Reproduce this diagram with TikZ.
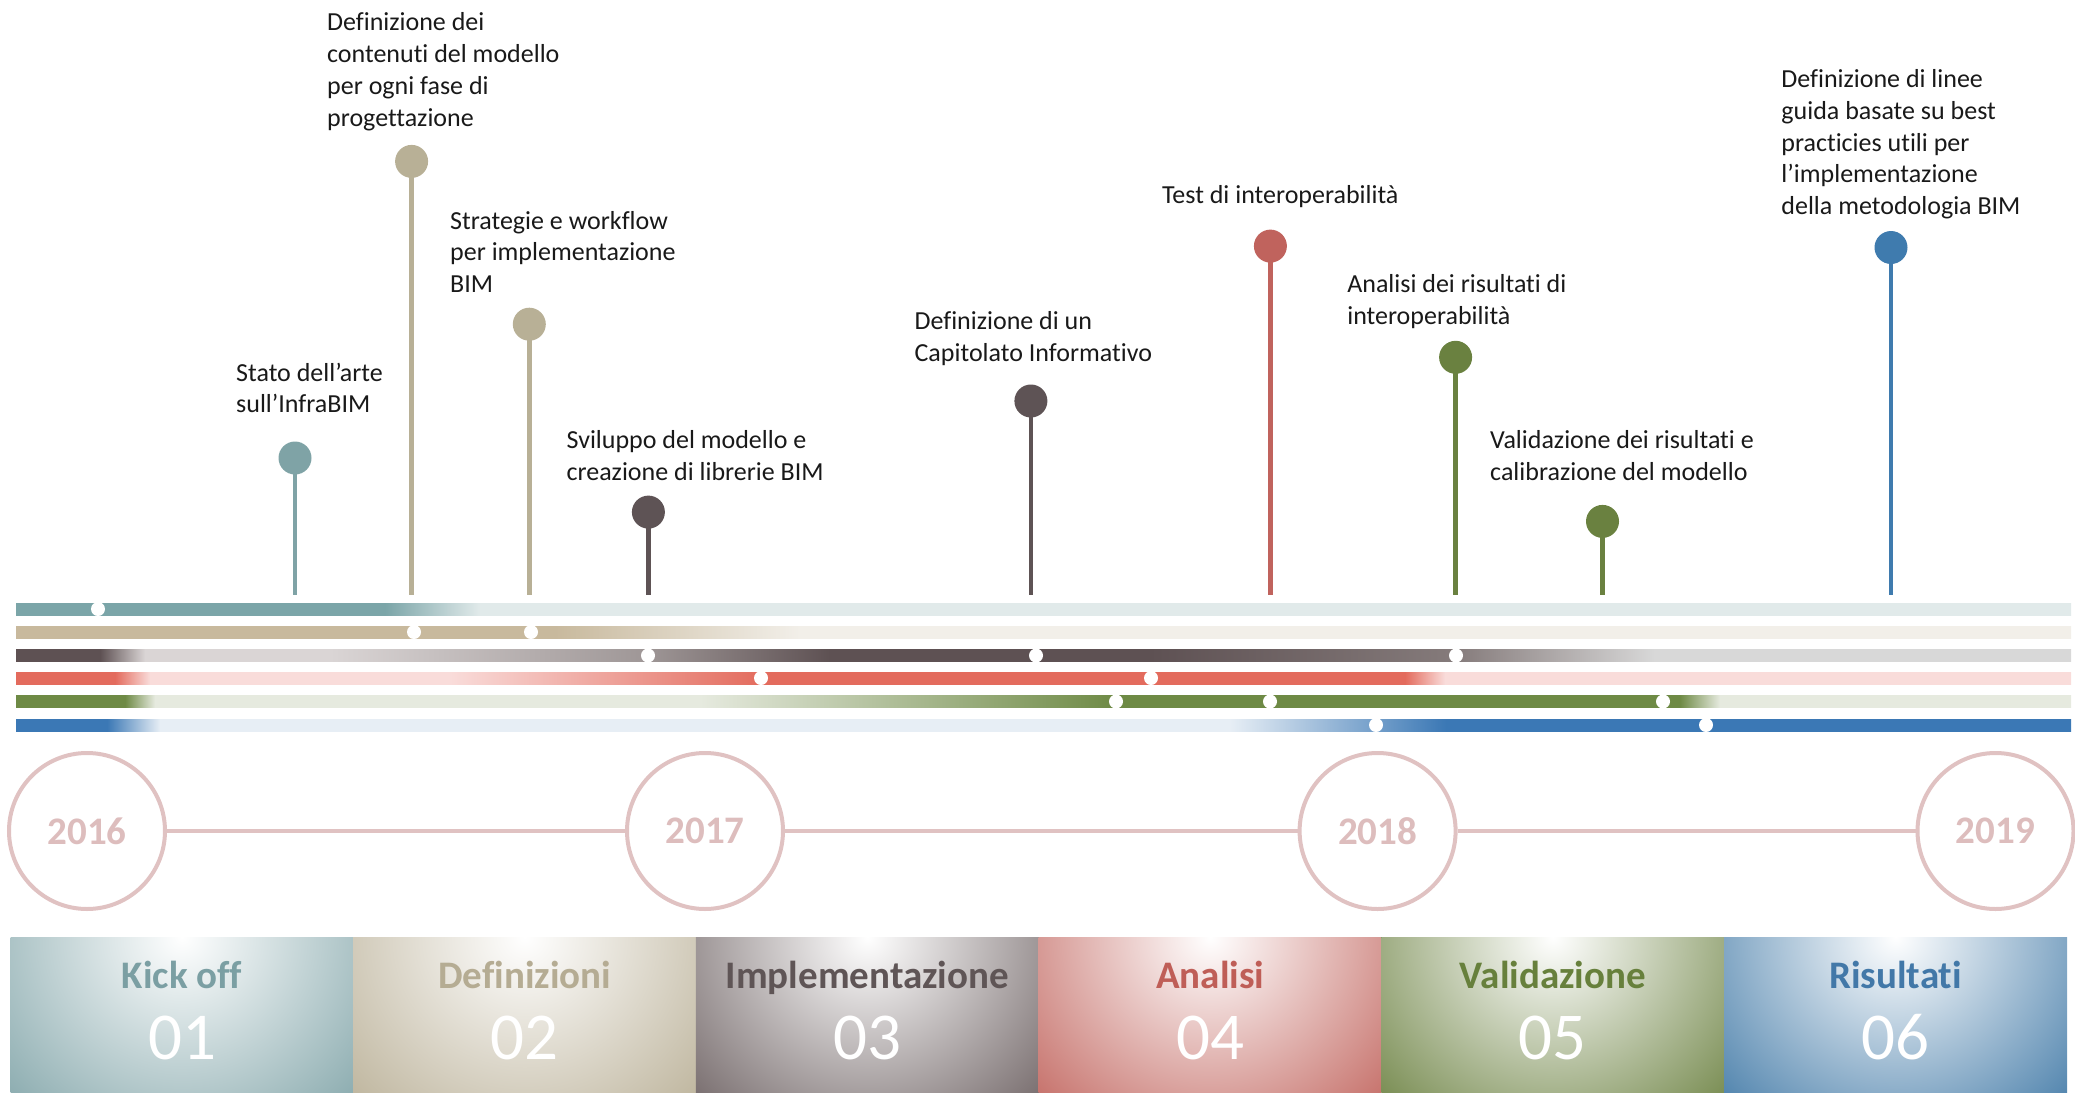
\documentclass[tikz,border=0pt]{standalone}
\usepackage{fontspec}
\setmainfont[Ligatures=NoCommon]{Carlito}
\definecolor{pTeal}{HTML}{7FA3A6}
\definecolor{pBeige}{HTML}{B8B096}
\definecolor{pDark}{HTML}{5E5355}
\definecolor{pRed}{HTML}{C0635D}
\definecolor{pGreen}{HTML}{6A8140}
\definecolor{pBlue}{HTML}{3F7BAE}
% bar colours
\definecolor{bTeal}{HTML}{7BA5A8}
\definecolor{bTealL}{HTML}{E1EAEA}
\definecolor{bBeige}{HTML}{C8B99D}
\definecolor{bBeigeL}{HTML}{F2EFE9}
\definecolor{bDark}{HTML}{5E5153}
\definecolor{bDarkL}{HTML}{DAD5D5}
\definecolor{bDarkM}{HTML}{9E9696}
\definecolor{bDarkN}{HTML}{857B7B}
\definecolor{bGrayL}{HTML}{D8D8D8}
\definecolor{bRed}{HTML}{E36B5D}
\definecolor{bRedL}{HTML}{F9DCDA}
\definecolor{bGreen}{HTML}{6E8A45}
\definecolor{bGreenL}{HTML}{E6EADF}
\definecolor{bBlue}{HTML}{3B78B5}
\definecolor{bBlueL}{HTML}{E7EEF5}
% box colours
\definecolor{xTeal}{HTML}{7FA3A7}
\definecolor{xBeige}{HTML}{B8AE94}
\definecolor{xDark}{HTML}{6A5E5F}
\definecolor{xRed}{HTML}{C0625B}
\definecolor{xGreen}{HTML}{6A803F}
\definecolor{xBlue}{HTML}{3E77A5}
\definecolor{tTeal}{HTML}{7B9FA3}
\definecolor{tBeige}{HTML}{B5AC93}
\definecolor{tDark}{HTML}{5F5556}
\definecolor{tRed}{HTML}{BF5E57}
\definecolor{tGreen}{HTML}{67803C}
\definecolor{tBlue}{HTML}{4278A8}
\definecolor{yearPink}{HTML}{E0C2C2}
\definecolor{yearText}{HTML}{DDBDBD}
\newcommand\barseg[5]{\shade[left color=#4,right color=#5] (#2,#1-6) rectangle (#3,#1+6);}
\newcommand\bardot[2]{\fill[white] (#2,#1) ellipse (7 and 7);}
\begin{document}
\begin{tikzpicture}[x=1pt,y=-1pt,
  pintext/.style={anchor=north west, inner sep=0pt, align=left,
     font=\fontsize{26}{31.8}\selectfont, text=black!90},
  pinhead/.style={circle, fill=#1, minimum size=33pt, inner sep=0pt},
  pinline/.style={draw=#1, line width=4.5pt},
  year/.style={circle, draw=yearPink, line width=4pt, fill=white, minimum size=156pt,
     inner sep=0pt, text=yearText, font=\fontsize{39}{40}\selectfont\bfseries},
  yearline/.style={draw=yearPink, line width=4pt},
  phase/.style={rectangle, fill=#1, minimum width=343pt, minimum height=155pt, inner sep=0pt,
     path picture={\shade[inner color=white, outer color=#1]
        (path picture bounding box.north) ellipse (265 and 260);}},
  phasetitle/.style={anchor=base, inner sep=0pt, text=#1, font=\fontsize{39}{40}\selectfont\bfseries},
  phasenum/.style={anchor=base, inner sep=0pt, text=white, font=\fontsize{67}{70}\selectfont},
]
\useasboundingbox (0,0) rectangle (2075,1095);

% ---------- bars ----------
% bar 1 teal
\barseg{609}{16}{385}{bTeal}{bTeal}
\barseg{609}{385}{480}{bTeal}{bTealL}
\barseg{609}{480}{2071}{bTealL}{bTealL}
\bardot{609}{98}
% bar 2 beige
\barseg{632}{16}{555}{bBeige}{bBeige}
\barseg{632}{555}{800}{bBeige}{bBeigeL}
\barseg{632}{800}{2071}{bBeigeL}{bBeigeL}
\bardot{632}{414}\bardot{632}{531}
% bar 3 dark
\barseg{655.5}{16}{100}{bDark}{bDark}
\barseg{655.5}{100}{145}{bDark}{bDarkL}
\barseg{655.5}{145}{330}{bDarkL}{bDarkL}
\barseg{655.5}{330}{648}{bDarkL}{bDarkM}
\barseg{655.5}{648}{830}{bDarkM}{bDark}
\barseg{655.5}{830}{1150}{bDark}{bDark}
\barseg{655.5}{1150}{1456}{bDark}{bDarkN}
\barseg{655.5}{1456}{1655}{bDarkN}{bGrayL}
\barseg{655.5}{1655}{2071}{bGrayL}{bGrayL}
\bardot{655.5}{648}\bardot{655.5}{1036}\bardot{655.5}{1456}
% bar 4 red
\barseg{678}{16}{115}{bRed}{bRed}
\barseg{678}{115}{150}{bRed}{bRedL}
\barseg{678}{150}{450}{bRedL}{bRedL}
\barseg{678}{450}{763}{bRedL}{bRed}
\barseg{678}{763}{1405}{bRed}{bRed}
\barseg{678}{1405}{1445}{bRed}{bRedL}
\barseg{678}{1445}{2071}{bRedL}{bRedL}
\bardot{678}{761}\bardot{678}{1151}
% bar 5 green
\barseg{701.5}{16}{125}{bGreen}{bGreen}
\barseg{701.5}{125}{155}{bGreen}{bGreenL}
\barseg{701.5}{155}{700}{bGreenL}{bGreenL}
\barseg{701.5}{700}{1117}{bGreenL}{bGreen}
\barseg{701.5}{1117}{1680}{bGreen}{bGreen}
\barseg{701.5}{1680}{1720}{bGreen}{bGreenL}
\barseg{701.5}{1720}{2071}{bGreenL}{bGreenL}
\bardot{701.5}{1116}\bardot{701.5}{1270}\bardot{701.5}{1663}
% bar 6 blue
\barseg{725}{16}{107}{bBlue}{bBlue}
\barseg{725}{107}{160}{bBlue}{bBlueL}
\barseg{725}{160}{1230}{bBlueL}{bBlueL}
\barseg{725}{1230}{1446}{bBlueL}{bBlue}
\barseg{725}{1446}{2071}{bBlue}{bBlue}
\bardot{725}{1376}\bardot{725}{1706}

% ---------- pins ----------
\coordinate (e1) at (295,595);
\coordinate (e2) at (411.6,595);
\coordinate (e3) at (529.3,595);
\coordinate (e4) at (648.4,595);
\coordinate (e5) at (1030.9,595);
\coordinate (e6) at (1270.4,595);
\coordinate (e7) at (1455.6,595);
\coordinate (e8) at (1602.5,595);
\coordinate (e9) at (1891,595);
\draw[pinline=pTeal] (295,458) -- (e1);
\draw[pinline=pBeige] (411.6,161.4) -- (e2);
\draw[pinline=pBeige] (529.3,324.2) -- (e3);
\draw[pinline=pDark] (648.4,512.1) -- (e4);
\draw[pinline=pDark] (1030.9,401) -- (e5);
\draw[pinline=pRed] (1270.4,246.1) -- (e6);
\draw[pinline=pGreen] (1455.6,357.3) -- (e7);
\draw[pinline=pGreen] (1602.5,521.4) -- (e8);
\draw[pinline=pBlue] (1891,247.5) -- (e9);
\node[pinhead=pTeal] (p1) at (295,458) {};
\node[pinhead=pBeige] (p2) at (411.6,161.4) {};
\node[pinhead=pBeige] (p3) at (529.3,324.2) {};
\node[pinhead=pDark] (p4) at (648.4,512.1) {};
\node[pinhead=pDark] (p5) at (1030.9,401) {};
\node[pinhead=pRed] (p6) at (1270.4,246.1) {};
\node[pinhead=pGreen] (p7) at (1455.6,357.3) {};
\node[pinhead=pGreen] (p8) at (1602.5,521.4) {};
\node[pinhead=pBlue] (p9) at (1891,247.5) {};

\node[pintext] (t1) at (236,358.7) {\strut Stato dell’arte\\sull’InfraBIM};
\node[pintext] (t2) at (327,8.2) {\strut Definizione dei\\contenuti del modello\\per ogni fase di\\progettazione};
\node[pintext] (t3) at (450,206.7) {\strut Strategie e workflow\\per implementazione\\BIM};
\node[pintext] (t4) at (566.4,426.4) {\strut Sviluppo del modello e\\creazione di librerie BIM};
\node[pintext] (t5) at (914.4,307.3) {\strut Definizione di un\\Capitolato Informativo};
\node[pintext] (t6) at (1161.9,181.5) {\strut Test di interoperabilità};
\node[pintext] (t7) at (1347.1,270.2) {\strut Analisi dei risultati di\\interoperabilità};
\node[pintext] (t8) at (1490,426.4) {\strut Validazione dei risultati e\\calibrazione del modello};
\node[pintext] (t9) at (1781.2,65.1) {\strut Definizione di linee\\guida basate su best\\practicies utili per\\l’implementazione\\della metodologia BIM};

% ---------- years ----------
\node[year] (y16) at (87,831) {2016};
\node[year] (y17) at (705,831) {2017};
\node[year] (y18) at (1377.6,831) {2018};
\node[year] (y19) at (1995.5,831) {2019};
\draw[yearline] (y16) -- (y17);
\draw[yearline] (y17) -- (y18);
\draw[yearline] (y18) -- (y19);

% ---------- phases ----------
\node[phase=xTeal] (b1) at (182.0,1014.5) {};
\node[phase=xBeige] (b2) at (524.7,1014.5) {};
\node[phase=xDark] (b3) at (867.4,1014.5) {};
\node[phase=xRed] (b4) at (1210.2,1014.5) {};
\node[phase=xGreen] (b5) at (1552.9,1014.5) {};
\node[phase=xBlue] (b6) at (1895.6,1014.5) {};
\node[phasetitle=tTeal] (h1) at (182.0,988) {Kick off};
\node[phasetitle=tBeige] (h2) at (524.7,988) {Definizioni};
\node[phasetitle=tDark] (h3) at (867.4,988) {Implementazione};
\node[phasetitle=tRed] (h4) at (1210.2,988) {Analisi};
\node[phasetitle=tGreen] (h5) at (1552.9,988) {Validazione};
\node[phasetitle=tBlue] (h6) at (1895.6,988) {Risultati};
\node[phasenum] (n1) at (182.0,1059) {01};
\node[phasenum] (n2) at (524.7,1059) {02};
\node[phasenum] (n3) at (867.4,1059) {03};
\node[phasenum] (n4) at (1210.2,1059) {04};
\node[phasenum] (n5) at (1552.9,1059) {05};
\node[phasenum] (n6) at (1895.6,1059) {06};
\end{tikzpicture}
\end{document}
